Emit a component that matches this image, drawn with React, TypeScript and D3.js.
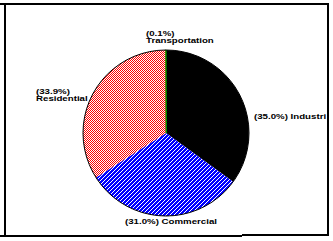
import React from "react";
import * as d3 from "d3";

const categories = ["Industrial", "Commercial", "Residential", "Transportation"];
const values = [35.0, 31.0, 33.9, 0.1];
const labelLines: string[][] = [
  ["(35.0%) Industri"],
  ["(31.0%) Commercial"],
  ["(33.9%)", "Residential"],
  ["(0.1%)", "Transportation"],
];

const W = 333;
const H = 241;
const cx = 166;
const cy = 133;
const R = 83;

const fills = ["#000000", "#0000ff", "#ffffff", "#00c000"];
// label anchor positions (left x, first baseline y)
const labelPos = [
  [254, 118.5],
  [125, 223.5],
  [36, 93.5],
  [146, 35.5],
];

export default function App() {
  const pie = d3.pie<number>().sort(null).value((d) => d);
  const arcs = pie(values);
  const arc = d3.arc<d3.PieArcDatum<number>>().innerRadius(0).outerRadius(R);

  // 1px red/white checker texture for the Residential slice
  let checker = "";
  for (let y = cy - R - 1; y <= cy + R + 1; y++) {
    for (let x = cx - R - 1; x <= cx + 1; x++) {
      if ((x + y) % 2 === 0) checker += `M${x} ${y}h1v1h-1z`;
    }
  }
  // white "/" hatching for the Commercial slice
  let hatch = "";
  for (let y = cy - 1; y <= cy + R + 1; y++) {
    for (let x = cx - R - 1; x <= cx + R + 1; x++) {
      if ((x + y) % 4 === 0) hatch += `M${x} ${y}h1v1h-1z`;
    }
  }

  return (
    <svg
      width={W}
      height={H}
      style={{ position: "absolute", left: 0, top: 0, background: "#fff" }}
    >
      <defs>
        <clipPath id="resClip">
          <path d={arc(arcs[2]) || ""} transform={`translate(${cx},${cy})`} />
        </clipPath>
        <clipPath id="comClip">
          <path d={arc(arcs[1]) || ""} transform={`translate(${cx},${cy})`} />
        </clipPath>
      </defs>
      {/* frame */}
      <g shapeRendering="crispEdges">
        <line x1={0} y1={4} x2={329} y2={4} stroke="#000" strokeWidth={1.5} />
        <line x1={5} y1={4} x2={5} y2={236} stroke="#000" strokeWidth={1.5} />
        <line x1={328} y1={4} x2={328} y2={236} stroke="#000" strokeWidth={1.5} />
        <line x1={0} y1={236} x2={242} y2={236} stroke="#000" strokeWidth={1.5} />
        <line x1={242} y1={235} x2={329} y2={235} stroke="#000" strokeWidth={1.5} />
      </g>
      <g transform={`translate(${cx},${cy})`}>
        {arcs.map((a, i) => (
          <path
            key={categories[i]}
            d={arc(a) || ""}
            fill={fills[i]}
            stroke={i === 3 ? "#00c000" : "none"}
            strokeWidth={i === 3 ? 1 : 0}
          />
        ))}
      </g>
      <path d={checker} fill="#ff0000" shapeRendering="crispEdges" clipPath="url(#resClip)" />
      <path d={hatch} fill="#ffffff" shapeRendering="crispEdges" clipPath="url(#comClip)" />
      <circle cx={cx} cy={cy} r={R} fill="none" stroke="#000" strokeWidth={1} />
      {labelLines.map((lines, i) =>
        lines.map((l, j) => (
          <text
            key={`${categories[i]}-${j}`}
            transform={`translate(${labelPos[i][0]},${labelPos[i][1] + j * 7.5}) scale(0.97,0.8)`}
            fontFamily="Liberation Sans, Arial, sans-serif"
            fontWeight="bold"
            fontSize={10}
            fill="#000"
          >
            {l}
          </text>
        ))
      )}
    </svg>
  );
}
